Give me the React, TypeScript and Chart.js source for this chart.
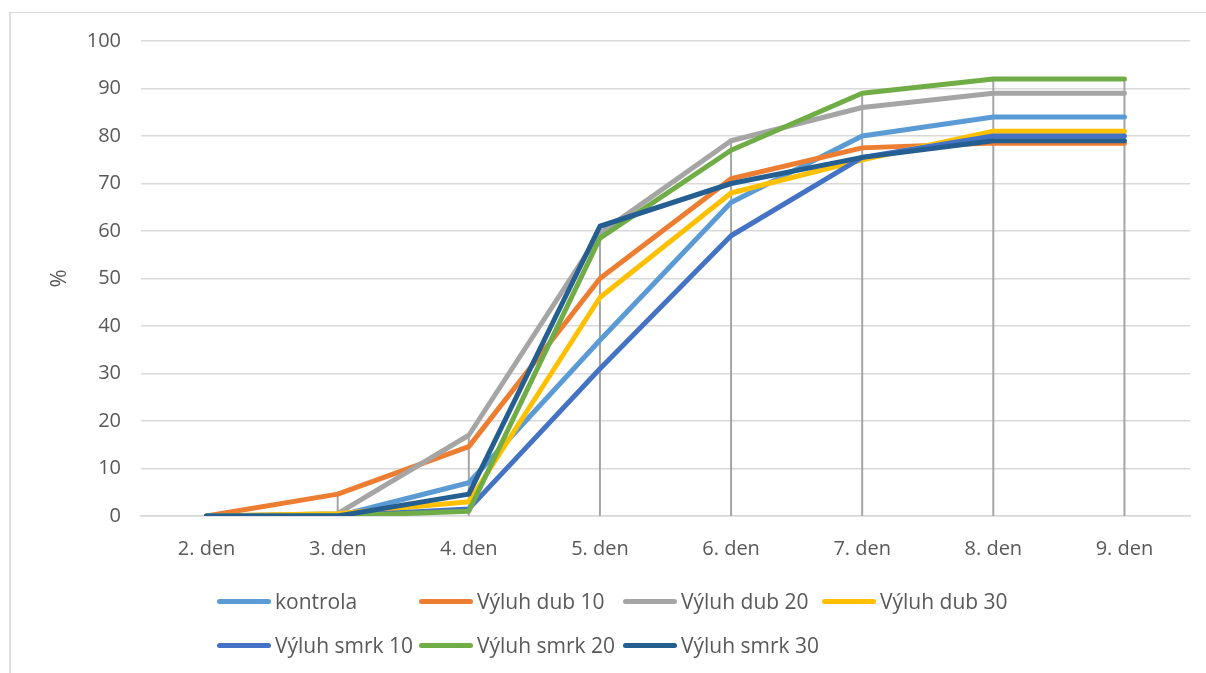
import React, { useEffect, useRef } from "react";
import { Chart, registerables } from "chart.js";

Chart.register(...registerables);

const categories = ["2. den", "3. den", "4. den", "5. den", "6. den", "7. den", "8. den", "9. den"];
const seriesNames = ["kontrola", "Výluh dub 10", "Výluh dub 20", "Výluh dub 30", "Výluh smrk 10", "Výluh smrk 20", "Výluh smrk 30"];
const kontrola = [0, 0, 7, 37, 66, 80, 84, 84];
const dub10 = [0, 4.6, 14.6, 50, 71, 77.5, 78.5, 78.5];
const dub20 = [0, 0.5, 17, 59.5, 79, 86, 89, 89];
const dub30 = [0, 0.5, 3, 46, 68, 75, 81, 81];
const smrk10 = [0, 0, 1.5, 31, 59, 75.5, 80, 80];
const smrk20 = [0, 0, 1, 58.5, 77, 89, 92, 92];
const smrk30 = [0, 0, 4.6, 61, 70, 75.5, 79, 79];
const seriesValues = [kontrola, dub10, dub20, dub30, smrk10, smrk20, smrk30];
const seriesColors = ["#5B9BD5", "#ED7D31", "#A5A5A5", "#FFC000", "#4472C4", "#70AD47", "#255E91"];

const FONT = "'Open Sans', 'Noto Sans', sans-serif";
const TEXT = "#595959";
const GRID = "#D9D9D9";

const dropLines = {
  id: "dropLines",
  beforeDatasetsDraw(chart: any) {
    const { ctx, scales } = chart;
    const xs = scales.x;
    const ys = scales.y;
    ctx.save();
    ctx.strokeStyle = "#A5A5A5";
    ctx.lineWidth = 2;
    for (let i = 0; i < categories.length; i++) {
      let mx = 0;
      chart.data.datasets.forEach((d: any) => {
        mx = Math.max(mx, d.data[i]);
      });
      if (mx <= 0) continue;
      const x = xs.getPixelForValue(i);
      ctx.beginPath();
      ctx.moveTo(x, ys.getPixelForValue(mx));
      ctx.lineTo(x, ys.getPixelForValue(0));
      ctx.stroke();
    }
    ctx.restore();
  },
};

export default function App() {
  const ref = useRef<HTMLCanvasElement>(null);
  useEffect(() => {
    if (!ref.current) return;
    const chart = new Chart(ref.current, {
      type: "line",
      data: {
        labels: categories,
        datasets: seriesNames.map((name, i) => ({
          label: name,
          data: seriesValues[i],
          borderColor: seriesColors[i],
          backgroundColor: seriesColors[i],
          borderWidth: 5,
          borderCapStyle: "round",
          borderJoinStyle: "round",
          pointRadius: 0,
          pointHoverRadius: 0,
          tension: 0,
          fill: false,
          order: seriesNames.length - 1 - i,
        })),
      },
      options: {
        animation: false,
        responsive: false,
        maintainAspectRatio: false,
        layout: { padding: { left: 0, top: 41, right: 16, bottom: 0 } },
        plugins: {
          legend: { display: false },
          tooltip: { enabled: false },
        },
        scales: {
          x: {
            offset: true,
            grid: { display: false, drawTicks: false },
            border: { display: true, color: GRID, width: 1.5 },
            ticks: { color: TEXT, font: { family: FONT, size: 20 }, padding: 21, maxRotation: 0 },
            afterFit: (s: any) => {
              s.height = 157;
            },
          },
          y: {
            min: 0,
            max: 100,
            ticks: { stepSize: 10, color: TEXT, font: { family: FONT, size: 20 }, padding: 20 },
            grid: { color: GRID, lineWidth: 1.5, drawTicks: false },
            border: { display: false },
            title: {
              display: true,
              text: "%",
              color: TEXT,
              font: { family: FONT, size: 22 },
              padding: { top: 47, bottom: 0 },
            },
            afterFit: (s: any) => {
              s.width = 141;
            },
          },
        },
      },
      plugins: [dropLines],
    });
    return () => chart.destroy();
  }, []);

  const legendCols = [217, 419, 623, 822];
  const legendRows = [601, 645];

  return (
    <div style={{ position: "absolute", left: 0, top: 0, width: 1206, height: 673, background: "#fff", overflow: "hidden" }}>
      <div
        style={{
          position: "absolute",
          left: 9,
          top: 12,
          right: 0,
          bottom: 0,
          borderTop: "1px solid #D9D9D9",
          borderLeft: "2px solid #E0E0E0",
        }}
      />
      <canvas ref={ref} width={1206} height={673} style={{ position: "absolute", left: 0, top: 0, width: 1206, height: 673 }} />
      {seriesNames.map((name, i) => {
        const row = i < 4 ? 0 : 1;
        const col = i < 4 ? i : i - 4;
        return (
          <div
            key={name}
            style={{
              position: "absolute",
              left: legendCols[col],
              top: legendRows[row] - 15,
              height: 30,
              display: "flex",
              alignItems: "center",
              fontFamily: FONT,
              fontSize: 21,
              color: TEXT,
              whiteSpace: "nowrap",
            }}
          >
            <span style={{ display: "inline-block", width: 54, height: 5, borderRadius: 3, background: seriesColors[i], marginRight: 4 }} />
            <span>{name}</span>
          </div>
        );
      })}
    </div>
  );
}
